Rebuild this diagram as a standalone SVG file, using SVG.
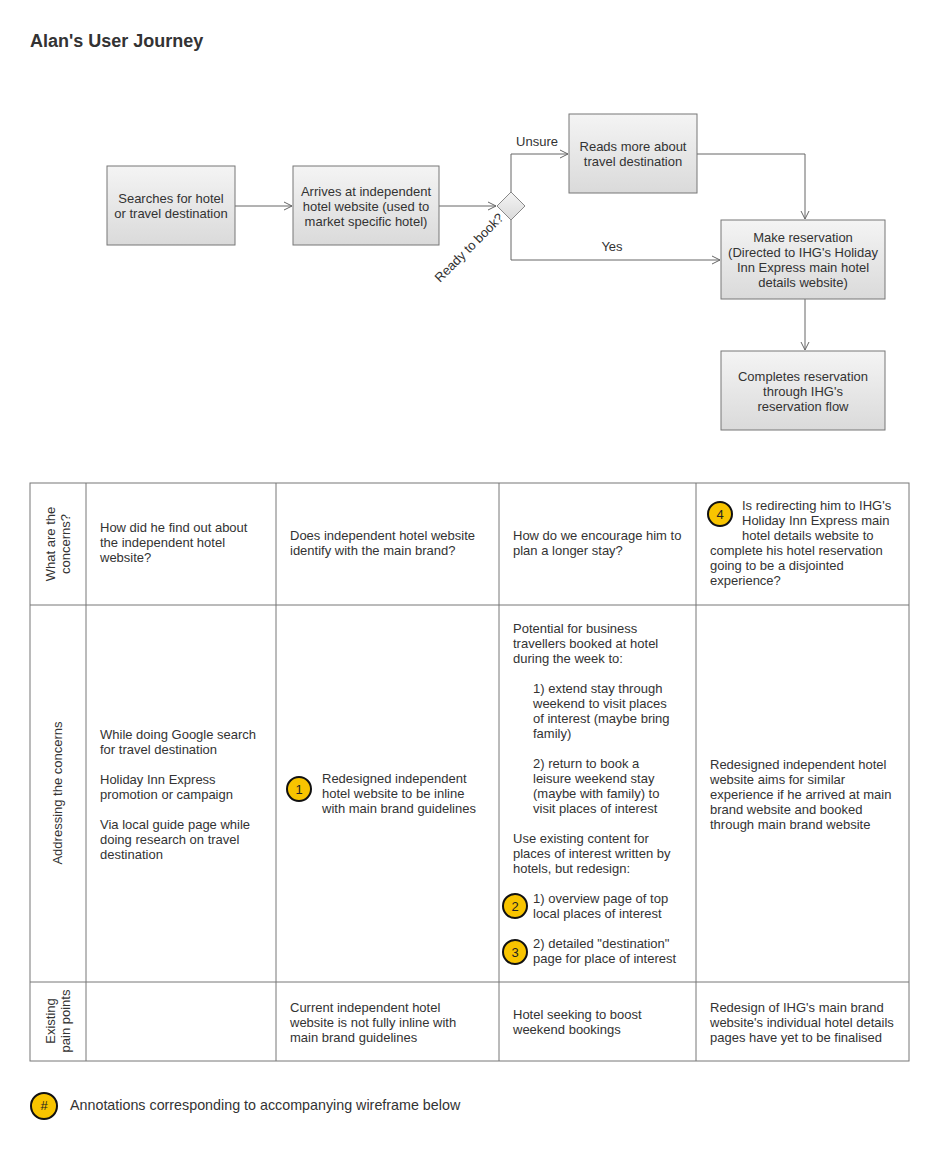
<svg xmlns="http://www.w3.org/2000/svg" width="940" height="1160" viewBox="0 0 940 1160">
<style>
text{font-family:"Liberation Sans",Arial,sans-serif;font-size:13px;fill:#333}
.c{text-anchor:middle}
.title{font-size:18px;font-weight:bold}
.box{fill:url(#g);stroke:#777;stroke-width:1}
.conn{fill:none;stroke:#666;stroke-width:1}
.grid{fill:none;stroke:#777;stroke-width:1}
.badge{fill:#f8c400;stroke:#111;stroke-width:2}
.bt{font-size:13px;fill:#222;text-anchor:middle}
</style>
<defs>
<linearGradient id="g" x1="0" y1="0" x2="0" y2="1">
<stop offset="0" stop-color="#f4f4f4"/>
<stop offset="1" stop-color="#dadada"/>
</linearGradient>
<marker id="a" markerWidth="10" markerHeight="10" refX="9" refY="5" orient="auto" markerUnits="userSpaceOnUse">
<path d="M1,1 L9,5 L1,9" fill="none" stroke="#666" stroke-width="1"/>
</marker>
</defs>
<rect width="940" height="1160" fill="#fff"/>
<text class="title" x="30" y="47">Alan's User Journey</text>

<g id="connectors">
<path class="conn" d="M235,206 H292" marker-end="url(#a)"/>
<path class="conn" d="M439,206 H496" marker-end="url(#a)"/>
<path class="conn" d="M511,192 V154 H568" marker-end="url(#a)"/>
<path class="conn" d="M511,220 V260 H720" marker-end="url(#a)"/>
<path class="conn" d="M697,154 H805 V219" marker-end="url(#a)"/>
<path class="conn" d="M805,299 V350" marker-end="url(#a)"/>
<text x="537" y="146" class="c">Unsure</text>
<text x="612" y="251" class="c">Yes</text>
<text x="0" y="0" transform="translate(440,283) rotate(-45)">Ready to book?</text>
</g>

<g id="n1"><rect class="box" x="107" y="166" width="128" height="79"/>
<text class="c" x="171" y="203">Searches for hotel</text><text class="c" x="171" y="218">or travel destination</text></g>
<g id="n2"><rect class="box" x="293" y="166" width="146" height="79"/>
<text class="c" x="366" y="196">Arrives at independent</text><text class="c" x="366" y="211">hotel website (used to</text><text class="c" x="366" y="226">market specific hotel)</text></g>
<g id="n3"><path d="M511,192 L525,206 L511,220 L497,206 Z" fill="url(#g)" stroke="#888"/></g>
<g id="n4"><rect class="box" x="569" y="114" width="128" height="79"/>
<text class="c" x="633" y="151">Reads more about</text><text class="c" x="633" y="166">travel destination</text></g>
<g id="n5"><rect class="box" x="721" y="220" width="164" height="79"/>
<text class="c" x="803" y="242">Make reservation</text><text class="c" x="803" y="257">(Directed to IHG's Holiday</text><text class="c" x="803" y="272">Inn Express main hotel</text><text class="c" x="803" y="287">details website)</text></g>
<g id="n6"><rect class="box" x="721" y="351" width="164" height="79"/>
<text class="c" x="803" y="381">Completes reservation</text><text class="c" x="803" y="396">through IHG's</text><text class="c" x="803" y="411">reservation flow</text></g>

<g id="table">
<rect class="grid" x="30" y="483" width="879" height="578"/>
<path class="grid" d="M86,483 V1061 M276,483 V1061 M499,483 V1061 M696,483 V1061 M30,605 H909 M30,982 H909"/>
<text class="c" transform="translate(55,544) rotate(-90)">What are the</text>
<text class="c" transform="translate(70,544) rotate(-90)">concerns?</text>
<text class="c" transform="translate(62,793) rotate(-90)">Addressing the concerns</text>
<text class="c" transform="translate(55,1021) rotate(-90)">Existing</text>
<text class="c" transform="translate(70,1021) rotate(-90)">pain points</text>

<text x="100" y="532">How did he find out about</text>
<text x="100" y="547">the independent hotel</text>
<text x="100" y="562">website?</text>
<text x="290" y="540">Does independent hotel website</text>
<text x="290" y="555">identify with the main brand?</text>
<text x="513" y="540">How do we encourage him to</text>
<text x="513" y="555">plan a longer stay?</text>
<g id="b4"><circle class="badge" cx="720" cy="514" r="12"/><text class="bt" x="720" y="518.5">4</text></g>
<text x="742" y="510">Is redirecting him to IHG's</text>
<text x="742" y="525">Holiday Inn Express main</text>
<text x="742" y="540">hotel details website to</text>
<text x="710" y="555">complete his hotel reservation</text>
<text x="710" y="570">going to be a disjointed</text>
<text x="710" y="585">experience?</text>

<text x="100" y="739">While doing Google search</text>
<text x="100" y="754">for travel destination</text>
<text x="100" y="784">Holiday Inn Express</text>
<text x="100" y="799">promotion or campaign</text>
<text x="100" y="829">Via local guide page while</text>
<text x="100" y="844">doing research on travel</text>
<text x="100" y="859">destination</text>

<g id="b1"><circle class="badge" cx="299" cy="789" r="12"/><text class="bt" x="299" y="793.5">1</text></g>
<text x="322" y="783">Redesigned independent</text>
<text x="322" y="798">hotel website to be inline</text>
<text x="322" y="813">with main brand guidelines</text>

<text x="513" y="633">Potential for business</text>
<text x="513" y="648">travellers booked at hotel</text>
<text x="513" y="663">during the week to:</text>
<text x="533" y="693">1) extend stay through</text>
<text x="533" y="708">weekend to visit places</text>
<text x="533" y="723">of interest (maybe bring</text>
<text x="533" y="738">family)</text>
<text x="533" y="768">2) return to book a</text>
<text x="533" y="783">leisure weekend stay</text>
<text x="533" y="798">(maybe with family) to</text>
<text x="533" y="813">visit places of interest</text>
<text x="513" y="843">Use existing content for</text>
<text x="513" y="858">places of interest written by</text>
<text x="513" y="873">hotels, but redesign:</text>
<g id="b2"><circle class="badge" cx="515" cy="906" r="12"/><text class="bt" x="515" y="910.5">2</text></g>
<text x="533" y="903">1) overview page of top</text>
<text x="533" y="918">local places of interest</text>
<g id="b3"><circle class="badge" cx="515" cy="952" r="12"/><text class="bt" x="515" y="956.5">3</text></g>
<text x="533" y="948">2) detailed "destination"</text>
<text x="533" y="963">page for place of interest</text>

<text x="710" y="769">Redesigned independent hotel</text>
<text x="710" y="784">website aims for similar</text>
<text x="710" y="799">experience if he arrived at main</text>
<text x="710" y="814">brand website and booked</text>
<text x="710" y="829">through main brand website</text>

<text x="290" y="1012">Current independent hotel</text>
<text x="290" y="1027">website is not fully inline with</text>
<text x="290" y="1042">main brand guidelines</text>
<text x="513" y="1019">Hotel seeking to boost</text>
<text x="513" y="1034">weekend bookings</text>
<text x="710" y="1012">Redesign of IHG's main brand</text>
<text x="710" y="1027">website's individual hotel details</text>
<text x="710" y="1042">pages have yet to be finalised</text>
</g>

<g id="legend">
<circle class="badge" cx="44" cy="1106" r="13"/><text class="bt" x="44" y="1110">#</text>
<text x="70" y="1110" style="font-size:14.3px">Annotations corresponding to accompanying wireframe below</text>
</g>
</svg>
